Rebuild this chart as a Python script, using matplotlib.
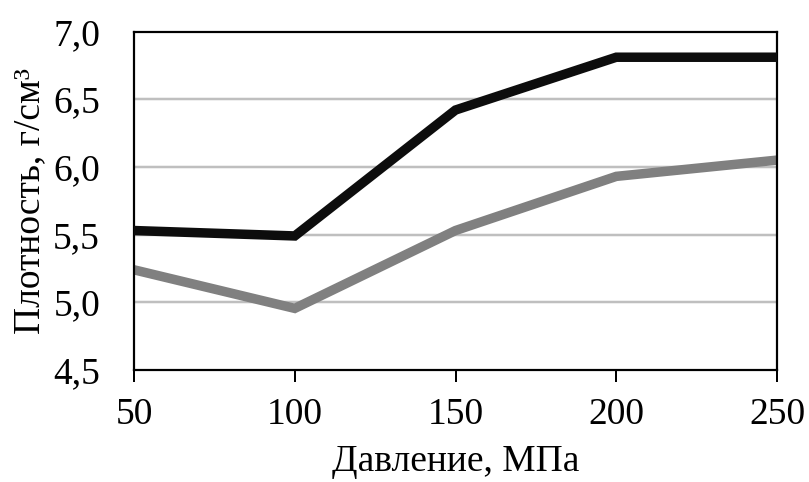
import matplotlib
matplotlib.use("Agg")
import matplotlib.pyplot as plt

pressure = [50, 100, 150, 200, 250]
density_black = [5.53, 5.49, 6.42, 6.81, 6.81]
density_gray = [5.24, 4.955, 5.53, 5.93, 6.05]
yticks = [4.5, 5.0, 5.5, 6.0, 6.5, 7.0]
ytick_labels = ["4,5", "5,0", "5,5", "6,0", "6,5", "7,0"]

plt.rcParams['font.family'] = 'serif'
plt.rcParams['font.serif'] = ['Liberation Serif', 'DejaVu Serif']

PX = 72 / 100  # points per pixel at dpi 100
FS = 27

fig = plt.figure(figsize=(8.09, 4.82), dpi=100)
ax = fig.add_axes([134/809, 1 - 370/482, (777-134)/809, (370-31.5)/482])

for y in yticks[1:-1]:
    ax.axhline(y, color='#bfbfbf', lw=2.5 * PX, zorder=1)

ax.plot(pressure, density_black, color='#0d0d0d', lw=9.5 * PX, solid_joinstyle='miter', zorder=3)
ax.plot(pressure, density_gray, color='#808080', lw=9.5 * PX, solid_joinstyle='miter', zorder=2)

ax.set_xlim(50, 250)
ax.set_ylim(4.5, 7.0)
ax.set_xticks(pressure)
ax.set_xticklabels([str(p) for p in pressure], fontsize=FS)
ax.set_yticks(yticks)
ax.set_yticklabels(ytick_labels, fontsize=FS)
ax.tick_params(axis='x', direction='out', length=12 * PX, width=2 * PX, pad=16 * PX)
ax.tick_params(axis='y', length=0, pad=34 * PX)
for s in ax.spines.values():
    s.set_linewidth(2.2 * PX)
    s.set_color('black')

ax.set_xlabel("Давление, МПа", fontsize=FS)
ax.set_ylabel("Плотность, г/см³", fontsize=FS)
ax.xaxis.set_label_coords((456 - 134) / 643, (370 - 462) / 338.5)
ax.xaxis.label.set_va('center')
ax.yaxis.set_label_coords((30 - 134) / 643, (370 - 201) / 338.5)
ax.yaxis.label.set_va('center')

fig.savefig("out.png", dpi=100)
